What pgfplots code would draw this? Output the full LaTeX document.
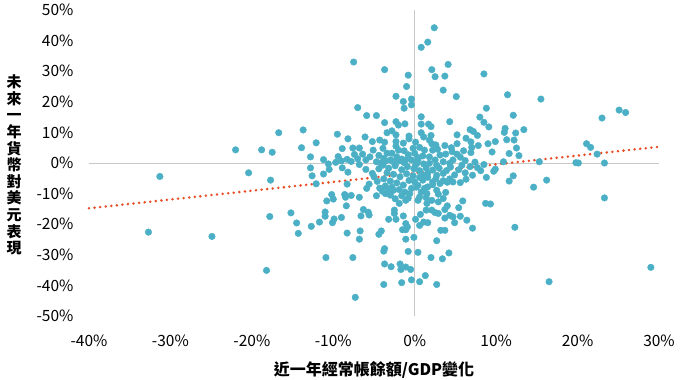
\documentclass[border=0pt]{standalone}
\usepackage{pgfplots}
\pgfplotsset{compat=1.18}
\usepackage{fontspec}
\setmainfont{Noto Sans CJK TC}
\definecolor{dotc}{RGB}{75,176,198}
\definecolor{trendc}{RGB}{232,76,36}
\definecolor{zeroc}{RGB}{200,200,200}
\begin{document}
\begin{tikzpicture}
\begin{axis}[
  at={(0,0)}, anchor=south west,
  scale only axis, width=570pt, height=306pt,
  xmin=-40, xmax=30, ymin=-50, ymax=50,
  xtick={-40,-30,-20,-10,0,10,20,30},
  xticklabels={-40\%,-30\%,-20\%,-10\%,0\%,10\%,20\%,30\%},
  ytick={-50,-40,-30,-20,-10,0,10,20,30,40,50},
  yticklabels={-50\%,-40\%,-30\%,-20\%,-10\%,0\%,10\%,20\%,30\%,40\%,50\%},
  axis line style={draw=none},
  major tick length=0pt,
  tick label style={font=\fontsize{15.5}{17}\selectfont, text=black},
  xticklabel style={yshift=-15pt},
  yticklabel style={xshift=-12pt},
  extra x ticks={0}, extra x tick labels={},
  extra y ticks={0}, extra y tick labels={},
  extra tick style={grid=major, major grid style={draw=zeroc, line width=0.9pt}},
  xlabel={近一年經常帳餘額/GDP變化},
  xlabel style={font=\fontsize{16}{18}\selectfont\bfseries, yshift=-8pt},
  ylabel={未\\來\\一\\年\\貨\\幣\\對\\美\\元\\表\\現},
  ylabel style={rotate=-90, align=center, font=\fontsize{15}{16.6}\selectfont\bfseries, xshift=-8pt, yshift=-2pt},
  clip=false,
]
\addplot[only marks, color=dotc, mark=*, mark size=3.3pt, mark options={solid, fill=dotc, draw=dotc}] table {
x y
-7.5 33.0
-7.0 18.1
-5.9 15.5
-4.7 15.5
-16.7 9.9
-13.7 10.8
-9.5 9.4
-8.2 7.9
-6.1 8.5
-5.2 7.0
-12.1 6.6
-22.0 4.3
-18.8 4.3
-17.5 3.5
-13.9 5.0
-8.9 4.7
-7.6 4.9
-6.8 4.9
-12.8 2.0
-10.6 -0.3
-9.7 0.2
-9.0 0.7
-8.3 1.2
-7.8 0.5
-7.0 1.4
-6.0 1.0
-12.8 -1.6
-8.9 -1.6
-1.3 17.9
-3.7 13.2
-3.4 9.9
-2.8 10.5
-2.3 13.5
-2.0 12.4
-1.2 12.8
-2.3 7.0
-1.4 6.5
-2.3 9.2
-0.7 8.8
-0.7 7.9
-4.3 7.5
-5.1 4.2
-3.9 4.8
-3.4 3.2
-2.8 3.2
-2.0 4.2
-1.3 4.0
-2.2 2.0
-3.0 1.0
-5.5 2.0
-4.7 0.4
-1.1 1.0
-0.2 4.8
2.4 44.2
1.6 39.5
0.8 37.8
4.1 32.2
2.1 30.5
2.5 28.2
3.7 28.4
3.5 23.8
5.1 21.7
8.5 29.1
-3.7 30.5
-0.8 28.7
-1.0 25.0
-2.3 21.8
-1.4 20.1
-0.4 20.9
-0.4 19.0
11.4 22.3
15.5 20.9
8.8 17.9
12.1 15.6
8.0 15.0
8.5 13.3
9.1 11.8
11.1 11.3
13.4 10.9
11.0 10.0
12.4 9.8
11.3 7.6
12.2 7.5
12.5 4.9
9.9 7.0
9.0 6.3
9.5 3.6
11.6 3.1
12.8 2.4
10.9 0.4
15.3 0.4
7.8 5.7
6.8 10.9
7.2 10.3
7.7 9.0
6.3 8.1
6.9 6.9
6.9 3.4
6.0 4.0
5.2 9.2
5.2 6.3
5.2 2.9
4.3 13.5
3.7 5.7
4.5 5.0
7.4 0.3
0.8 15.1
0.8 12.7
1.7 12.7
2.0 11.9
0.8 9.9
1.1 8.5
2.0 9.0
2.1 6.3
0.6 5.1
-3.7 6.8
-2.3 5.5
21.1 6.3
21.6 5.1
23.0 14.7
25.1 17.3
25.9 16.5
22.4 2.9
20.1 0.0
19.8 0.1
23.3 0.0
14.6 -7.9
16.2 -5.6
12.1 -4.2
11.6 -5.9
23.3 -11.4
8.7 -13.2
9.3 -13.4
12.3 -21.0
7.1 -21.3
6.4 -18.7
5.9 -12.4
5.4 -14.6
4.2 -29.4
3.4 -31.3
2.0 -30.9
2.7 -25.4
3.2 -22.0
3.7 -22.0
1.3 -36.8
0.6 -38.8
-0.4 -38.2
2.7 -39.7
0.4 -29.2
-0.8 -28.9
-0.1 -24.3
-1.1 -24.9
-1.6 -39.1
-3.8 -39.7
-0.5 -34.8
-1.7 -34.8
-1.1 -34.0
-1.8 -33.0
-2.9 -33.9
-3.7 -33.0
-3.7 -28.0
-3.8 -28.8
-4.1 -22.2
-4.4 -23.3
-3.2 -18.4
-1.4 -17.3
-1.1 -21.8
-0.9 -20.9
-1.5 -21.8
16.5 -38.8
29.0 -34.1
-4.7 -10.7
-2.5 -15.4
-2.5 -16.5
-2.3 -18.4
0.1 -18.4
0.7 -16.8
1.1 -19.3
1.6 -19.5
2.1 -15.4
2.5 -16.2
2.9 -16.5
3.7 -18.0
4.7 -17.6
4.9 -19.5
5.6 -17.4
3.7 -15.2
4.0 -14.0
3.5 -11.6
1.5 -10.0
1.5 -13.2
0.4 -12.2
0.6 -11.1
2.1 -12.2
3.8 -9.6
2.7 -8.9
1.6 -7.8
3.1 -6.7
4.0 -6.3
5.6 -6.4
6.3 -5.3
7.1 -4.0
8.8 -4.7
9.7 -2.7
9.9 -2.0
4.3 -5.2
4.9 -3.9
6.8 -1.2
4.3 -17.1
1.4 -15.4
0.6 -20.4
2.9 -12.7
4.7 -6.2
3.5 -5.8
2.2 -6.2
1.0 -5.6
0.0 -6.2
-0.4 -8.3
-0.6 -10.0
1.6 -3.4
2.7 -4.0
3.5 -3.4
1.8 -0.1
2.7 -0.7
3.5 0.4
4.3 -0.1
4.7 1.0
1.8 7.5
7.0 5.1
1.2 4.2
2.2 4.2
0.0 3.2
1.0 2.3
1.8 2.0
3.1 2.6
2.5 1.0
0.4 1.0
-0.4 1.0
-31.3 -4.4
-32.7 -22.6
-24.9 -24.0
-20.4 -3.2
-17.7 -5.6
-17.8 -17.5
-15.2 -16.3
-14.5 -19.6
-14.3 -23.0
-12.7 -20.7
-11.7 -19.3
-11.0 -16.0
-11.0 -17.4
-10.1 -19.5
-9.9 -18.3
-9.0 -17.8
-8.4 -14.0
-8.3 -22.9
-6.7 -22.2
-6.8 -24.9
-6.6 -17.3
-6.3 -15.2
-5.7 -16.1
-5.6 -17.0
-10.9 -30.9
-7.6 -30.9
-18.2 -35.1
-7.3 -43.9
-10.8 -12.4
-10.2 -10.3
-10.0 -11.8
-8.6 -10.3
-8.5 -11.2
-7.8 -10.6
-6.8 -11.2
-12.6 -4.2
-11.2 -3.6
-10.5 -2.1
-8.2 -3.0
-8.3 -6.9
-12.1 -6.8
-6.0 -2.1
-5.9 -8.3
-5.6 -6.9
-5.2 -3.4
-4.6 -6.0
-1.1 -19.8
-2.6 -8.9
-1.9 -13.2
-1.1 -12.2
-3.6 -10.0
-3.2 -8.9
-3.9 -0.7
-3.2 -1.7
-2.4 -0.9
-1.6 -2.2
-0.9 -1.2
-0.1 -1.9
-3.4 -3.2
-2.6 -3.7
-1.8 -4.5
-1.0 -3.5
-0.2 -4.2
-3.8 -5.2
-3.0 -5.9
-2.2 -6.5
-1.4 -7.2
-0.7 -5.7
-3.6 -7.5
-2.8 -7.9
-1.9 -8.7
-1.2 -9.5
-4.0 -9.2
-1.6 -10.7
-2.4 -11.7
0.1 -0.7
0.6 -2.5
1.0 -3.9
0.4 -7.3
1.2 -8.3
0.8 -9.5
-4.4 -1.9
-5.0 -4.5
-4.3 -8.2
-3.0 -10.5
-0.8 -11.5
-2.0 0.6
-1.3 0.1
-2.7 0.5
-3.6 0.6
0.3 0.0
1.1 -0.3
1.4 -1.7
2.2 -2.3
3.0 -1.7
3.9 -2.5
1.6 -4.7
2.6 -5.1
0.6 -4.7
0.2 -7.9
2.2 -7.1
1.4 -11.3
2.9 -10.2
4.4 -1.3
5.4 -2.2
5.8 -0.7
6.2 -3.2
8.1 -2.5
8.5 -0.5
7.7 -1.5
-6.4 2.9
-4.4 2.5
-3.8 1.5
-1.6 1.3
-0.8 2.7
-7.4 2.8
-9.4 2.1
-11.2 1.1
-4.2 0.0
-6.8 -0.5
2.8 4.5
3.8 2.9
4.6 3.7
5.6 1.9
6.2 0.8
2.6 5.9
0.1 6.8
0.4 1.8
};
\addplot[trendc, line width=2.8pt, line cap=round, dash pattern=on 0pt off 5.6pt] coordinates {(-40,-14.8) (30,5.3)};
\end{axis}
\pgfresetboundingbox
\path[use as bounding box] (-89pt,-64pt) rectangle (591pt,316pt);
\end{tikzpicture}
\end{document}
